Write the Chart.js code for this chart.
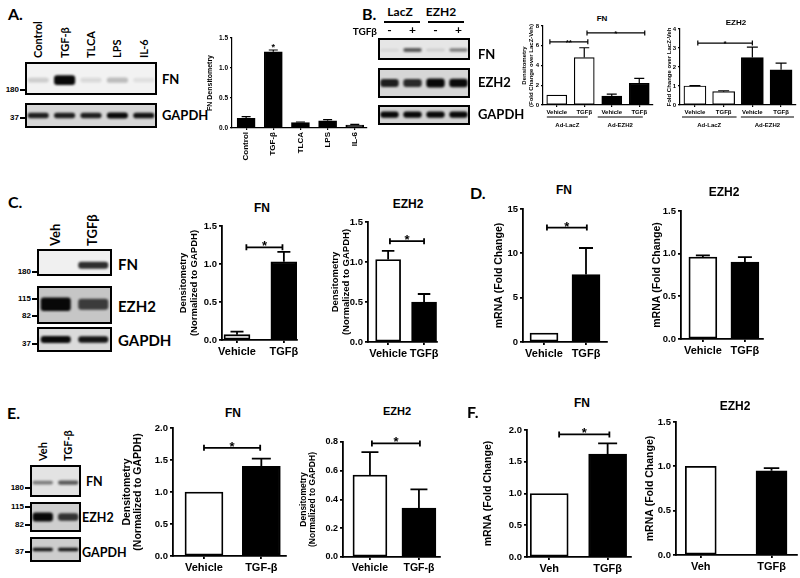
<!DOCTYPE html>
<html>
<head>
<meta charset="utf-8">
<script src="https://cdn.jsdelivr.net/npm/chart.js@4.4.0/dist/chart.umd.min.js"></script>
<style>
body { margin: 0; background: #fff; }
#fig { position: relative; width: 800px; height: 578px; overflow: hidden; font-family: "Liberation Sans", Arial, sans-serif; font-weight: bold; color: #000; }
.abs { position: absolute; white-space: nowrap; line-height: 1.2; }
.cal { font-family: Lato, "Open Sans", sans-serif; font-weight: bold; }
canvas { position: absolute; }
</style>
</head>
<body>
<div id="fig"></div>
<script>
// ---- panel A ----
const aCats = ["Control", "TGF-β", "TLCA", "LPS", "IL-6"];
const aFN = [0.16, 1.27, 0.09, 0.12, 0.05];
const aFNErr = [0.03, 0.03, 0.01, 0.02, 0.01];
const aTicks = [0, 0.5, 1.0, 1.5];
const aBlotFN = [0.15, 1.0, 0.1, 0.22, 0.08];
const aBlotGAPDH = [0.85, 0.85, 0.85, 1.0, 0.9];

// ---- panel B ----
const bCats = ["Vehicle", "TGFβ", "Vehicle", "TGFβ"];
const bGroups = ["Ad-LacZ", "Ad-EZH2"];
const bFN = [1.0, 4.8, 0.9, 2.2];
const bFNErr = [0, 1.0, 0.2, 0.5];
const bFNTicks = [0, 2, 4, 6, 8];
const bEZH2 = [1.0, 0.7, 2.5, 1.85];
const bEZH2Err = [0.02, 0.05, 0.55, 0.35];
const bEZH2Ticks = [0, 1, 2, 3, 4];
const bLanes = ["-", "+", "-", "+"];
const bBlotFN = [0.08, 0.6, 0.12, 0.45];
const bBlotEZH2 = [0.85, 0.8, 1.0, 0.95];
const bBlotGAPDH = [1.0, 1.0, 1.0, 1.0];

// ---- panel C ----
const cCats = ["Vehicle", "TGFβ"];
const cFN = [0.07, 1.03];
const cFNErr = [0.04, 0.13];
const cEZH2 = [1.03, 0.5];
const cEZH2Err = [0.11, 0.1];
const cTicks = [0, 0.5, 1.0, 1.5];
const cLanes = ["Veh", "TGFβ"];
const cBlotFN = [0.0, 0.8];
const cBlotEZH2 = [1.0, 0.7];
const cBlotGAPDH = [0.95, 0.9];

// ---- panel D ----
const dCats = ["Vehicle", "TGFβ"];
const dFN = [1.0, 7.6];
const dFNErr = [0, 3.0];
const dFNTicks = [0, 5, 10, 15];
const dEZH2 = [0.96, 0.9];
const dEZH2Err = [0.02, 0.06];
const dEZH2Ticks = [0, 0.5, 1.0, 1.5];

// ---- panel E ----
const eCats = ["Vehicle", "TGF-β"];
const eFN = [1.0, 1.4];
const eFNErr = [0, 0.12];
const eFNTicks = [0, 0.5, 1.0, 1.5, 2.0];
const eEZH2 = [0.57, 0.34];
const eEZH2Err = [0.16, 0.13];
const eEZH2Ticks = [0, 0.2, 0.4, 0.6, 0.8];
const eLanes = ["Veh", "TGF-β"];
const eBlotFN = [0.45, 0.6];
const eBlotEZH2 = [1.0, 0.75];
const eBlotGAPDH = [0.9, 0.9];

// ---- panel F ----
const fCats = ["Veh", "TGFβ"];
const fFN = [1.0, 1.62];
const fFNErr = [0, 0.17];
const fFNTicks = [0, 0.5, 1.0, 1.5, 2.0];
const fEZH2 = [1.0, 0.95];
const fEZH2Err = [0, 0.03];
const fEZH2Ticks = [0, 0.5, 1.0, 1.5];

Chart.defaults.font.family = '"Liberation Sans", Arial, sans-serif';
Chart.defaults.font.weight = 'bold';
Chart.defaults.color = '#000';

const fig = document.getElementById('fig');

function el(t, x, y, size, cls, tf) {
    const d = document.createElement('div');
    d.className = 'abs ' + (cls || '');
    d.textContent = t;
    d.style.left = x + 'px';
    d.style.top = y + 'px';
    d.style.fontSize = size + 'px';
    if (tf) d.style.transform = tf;
    fig.appendChild(d);
    return d;
}
const center = (t, x, y, s, c) => el(t, x, y, s, c, 'translate(-50%,-50%)');
const leftMid = (t, x, y, s, c) => el(t, x, y, s, c, 'translate(0,-50%)');
const rightMid = (t, x, y, s, c) => el(t, x, y, s, c, 'translate(-100%,-50%)');
function vert(t, x, y, s, c) {
    const d = el(t, x, y, s, c, 'rotate(-90deg) translate(0,-50%)');
    d.style.transformOrigin = '0 0';
    return d;
}
function hline(x1, x2, y, w) {
    const d = document.createElement('div');
    d.style.cssText = `position:absolute;left:${x1}px;top:${y - w / 2}px;width:${x2 - x1}px;height:${w}px;background:#000`;
    fig.appendChild(d);
}
function marker(t, xr, y, s) {
    rightMid(t, xr - 1, y, s, '');
    hline(xr, xr + 5, y, 1.5);
}

function makeCanvas(x, y, w, h) {
    const cv = document.createElement('canvas');
    cv.width = w; cv.height = h;
    cv.style.left = x + 'px'; cv.style.top = y + 'px';
    cv.style.width = w + 'px'; cv.style.height = h + 'px';
    fig.appendChild(cv);
    return cv;
}

// western blot strip: one lane per value, band darkness from the value
function blot(o) {
    const cv = makeCanvas(o.x, o.y, o.w, o.h);
    const half = v => o.bh * (0.4 + 0.6 * v) / 2;
    new Chart(cv, {
        type: 'bar',
        data: {
            labels: o.vals.map((_, i) => i),
            datasets: [{
                data: o.vals.map(v => [o.c - half(v), o.c + half(v)]),
                backgroundColor: o.vals.map(v => `rgba(8,8,8,${Math.min(1, v * 1.05)})`),
                borderWidth: 0, borderRadius: 3, borderSkipped: false,
                barPercentage: o.bp || 0.8, categoryPercentage: 1
            }]
        },
        options: {
            responsive: false, animation: false, devicePixelRatio: 1,
            layout: { padding: 0 },
            plugins: { legend: { display: false }, tooltip: { enabled: false } },
            scales: { x: { display: false }, y: { display: false, min: 0, max: 1 } }
        },
        plugins: [{
            id: 'strip',
            beforeDraw(ch) { const c = ch.ctx; c.save(); c.fillStyle = o.bg; c.fillRect(0, 0, o.w, o.h); c.restore(); },
            beforeDatasetsDraw(ch) { ch.ctx.save(); ch.ctx.filter = `blur(${o.blur || 0.9}px)`; },
            afterDatasetsDraw(ch) { ch.ctx.restore(); },
            afterDraw(ch) { const c = ch.ctx; c.save(); c.strokeStyle = '#000'; c.lineWidth = 2; c.strokeRect(1, 1, o.w - 2, o.h - 2); c.restore(); }
        }]
    });
}

const errPlugin = o => ({
    id: 'err',
    afterDatasetsDraw(ch) {
        const ctx = ch.ctx, ys = ch.scales.y, lw = o.lw || 1.8;
        ch.getDatasetMeta(0).data.forEach((bar, i) => {
            const e = o.errs[i];
            if (!e) return;
            const y0 = ys.getPixelForValue(o.vals[i]), y1 = ys.getPixelForValue(o.vals[i] + e);
            const cap = o.thick * 0.5;
            ctx.save();
            ctx.strokeStyle = '#000'; ctx.lineWidth = lw;
            ctx.beginPath();
            ctx.moveTo(bar.x, y0); ctx.lineTo(bar.x, y1);
            ctx.moveTo(bar.x - cap / 2, y1); ctx.lineTo(bar.x + cap / 2, y1);
            ctx.stroke();
            ctx.restore();
        });
    }
});

const sigPlugin = o => ({
    id: 'sig',
    afterDraw(ch) {
        const ctx = ch.ctx, xs = ch.scales.x, ys = ch.scales.y, lw = o.lw || 1.8;
        ctx.save();
        ctx.strokeStyle = '#000'; ctx.fillStyle = '#000'; ctx.lineWidth = lw;
        (o.sig || []).forEach(s => {
            const xa = xs.getPixelForValue(s.a), xb = xs.getPixelForValue(s.b), y = ys.getPixelForValue(s.y);
            if (s.a !== s.b) {
                const k = o.sk || 3;
                ctx.beginPath();
                ctx.moveTo(xa, y); ctx.lineTo(xb, y);
                ctx.moveTo(xa, y - k); ctx.lineTo(xa, y + k);
                ctx.moveTo(xb, y - k); ctx.lineTo(xb, y + k);
                ctx.stroke();
            }
            ctx.font = `bold ${o.ss || 13}px "Liberation Sans", Arial`;
            ctx.textAlign = 'center'; ctx.textBaseline = 'alphabetic';
            ctx.fillText(s.t, (xa + xb) / 2, y + (o.so ?? 3));
        });
        (o.groups || []).forEach(g => {
            const xa = xs.getPixelForValue(g.a), xb = xs.getPixelForValue(g.b);
            const y = ch.chartArea.bottom + o.gy;
            ctx.lineWidth = 1;
            ctx.beginPath(); ctx.moveTo(xa, y); ctx.lineTo(xb, y); ctx.stroke();
            ctx.font = `bold ${o.xs}px "Liberation Sans", Arial`;
            ctx.textAlign = 'center'; ctx.textBaseline = 'middle';
            ctx.fillText(g.t, (xa + xb) / 2, y + o.gt);
        });
        ctx.restore();
    }
});

// bar chart whose plot area is placed at x0..x1 / top..bot on the page
function barChart(o) {
    const padT = 10, padR = 24;
    const W = o.yw + (o.x1 - o.x0) + padR, H = padT + (o.bot - o.top) + o.xh;
    const cv = makeCanvas(o.x0 - o.yw, o.top - padT, W, H);
    const n = o.cats.length, lw = o.lw || 1.8;
    const grid = { display: true, drawOnChartArea: false, drawTicks: true, tickLength: o.tl || 3, color: '#000', lineWidth: lw, offset: false };
    new Chart(cv, {
        type: 'bar',
        data: {
            datasets: [{
                data: o.vals.map((v, i) => ({ x: i, y: v })),
                backgroundColor: o.fills, borderColor: '#000', borderWidth: lw, borderSkipped: false,
                barThickness: o.thick
            }]
        },
        options: {
            responsive: false, animation: false, devicePixelRatio: 1,
            layout: { padding: { left: 0, top: padT, right: padR, bottom: 0 } },
            plugins: { legend: { display: false }, tooltip: { enabled: false } },
            scales: {
                x: {
                    type: 'linear', offset: false, min: -o.padL, max: n - 1 + o.padR,
                    afterBuildTicks: s => { s.ticks = o.cats.map((c, i) => ({ value: i })); },
                    afterFit: s => { s.height = o.xh; },
                    ticks: { callback: (v, i) => o.cats[i], autoSkip: false, maxRotation: o.rot || 0, minRotation: o.rot || 0, padding: o.xpad ?? 2, font: { size: o.xs, weight: 'bold' }, color: '#000' },
                    grid: grid,
                    border: { display: true, color: '#000', width: lw }
                },
                y: {
                    type: 'linear', min: 0, max: o.ticks[o.ticks.length - 1],
                    afterBuildTicks: s => { s.ticks = o.ticks.map(v => ({ value: v })); },
                    afterFit: s => { s.width = o.yw; },
                    ticks: { callback: v => v.toFixed(o.dec), padding: o.ypad ?? 2, font: { size: o.ts, weight: 'bold' }, color: '#000' },
                    grid: grid,
                    border: { display: true, color: '#000', width: lw },
                    title: { display: true, text: o.ytitle, padding: 0, color: '#000', font: { size: o.yts, weight: 'bold', lineHeight: o.ytlh || 1.2 } }
                }
            }
        },
        plugins: [errPlugin(o), sigPlugin(o)]
    });
}

const WB = ['#fff', '#000'];
const WWBB = ['#fff', '#fff', '#000', '#000'];

// ================= A =================
el('A.', 8, 4, 16, 'cal');
const aLane = { x: 25, w: 132 };
aCats.forEach((c, i) => vert(c, aLane.x + aLane.w * (i + 0.5) / aCats.length, 58, 11, 'cal'));
blot({ x: 25, y: 62, w: 132, h: 33, vals: aBlotFN, bg: '#f2f2f2', c: 0.45, bh: 0.3 });
blot({ x: 25, y: 103, w: 132, h: 25, vals: aBlotGAPDH, bg: '#d6d6d6', c: 0.5, bh: 0.24 });
marker('180', 20, 90, 8);
marker('37', 20, 118, 8);
leftMid('FN', 162, 80, 13, 'cal');
leftMid('GAPDH', 162, 116, 13, 'cal');
barChart({ x0: 232, x1: 367, top: 38, bot: 128, yw: 26, xh: 42, cats: aCats, vals: aFN, errs: aFNErr,
    ticks: aTicks, dec: 1, fills: aCats.map(() => '#000'), thick: 18, padL: 0.52, padR: 0.45,
    ytitle: 'FN Densitometry', yts: 7, ts: 6.5, xs: 8, rot: 90, lw: 1.2, tl: 2, ss: 9, so: 4,
    sig: [{ a: 1, b: 1, y: 1.36, t: '*' }] });

// ================= B =================
el('B.', 362, 4, 16, 'cal');
const bLane = { x: 378, w: 92 };
const bx = i => bLane.x + bLane.w * (i + 0.5) / bLanes.length;
center('LacZ', 400, 12, 12, 'cal');
center('EZH2', 441, 12, 12, 'cal');
hline(384, 420, 22, 1.2);
hline(428, 464, 22, 1.2);
rightMid('TGFβ', 377, 31, 10, 'cal');
bLanes.forEach((l, i) => center(l, bx(i), 30, 12, 'cal'));
blot({ x: 378, y: 38, w: 92, h: 22, vals: bBlotFN, bg: '#e6e6e6', c: 0.45, bh: 0.24 });
blot({ x: 378, y: 68, w: 92, h: 30, vals: bBlotEZH2, bg: '#d6d6d6', c: 0.5, bh: 0.3 });
blot({ x: 378, y: 105, w: 92, h: 20, vals: bBlotGAPDH, bg: '#d2d2d2', c: 0.52, bh: 0.32 });
leftMid('FN', 478, 55, 13, 'cal');
leftMid('EZH2', 478, 83, 13, 'cal');
leftMid('GAPDH', 478, 115, 13, 'cal');
center('FN', 602, 19, 8, '');
barChart({ x0: 543, x1: 653, top: 26, bot: 105, yw: 22, xh: 28, cats: bCats, vals: bFN, errs: bFNErr,
    ticks: bFNTicks, dec: 0, fills: WWBB, thick: 20, padL: 0.5, padR: 0.5,
    ytitle: ['Densitometry', '(Fold Change over LacZ-Veh)'], yts: 6, ytlh: 1.1, ts: 6, xs: 6, lw: 1.2, tl: 2,
    ss: 8, so: 3, sk: 2.5,
    sig: [{ a: -0.25, b: 1.13, y: 6.4, t: '**' }, { a: 1.1, b: 3.2, y: 7.3, t: '*' }],
    groups: [{ a: -0.36, b: 1.13, t: bGroups[0] }, { a: 1.49, b: 3.13, t: bGroups[1] }], gy: 12, gt: 8 });
center('EZH2', 736, 23, 8, '');
barChart({ x0: 680, x1: 796, top: 29, bot: 105, yw: 14, xh: 28, cats: bCats, vals: bEZH2, errs: bEZH2Err,
    ticks: bEZH2Ticks, dec: 0, fills: WWBB, thick: 22, padL: 0.52, padR: 0.52,
    ytitle: 'Fold Change over LacZ-Veh', yts: 6, ts: 6, xs: 6, lw: 1.2, tl: 2, ss: 8, so: 3, sk: 2.5,
    sig: [{ a: 0.1, b: 2.0, y: 3.26, t: '*' }],
    groups: [{ a: -0.45, b: 1.45, t: bGroups[0] }, { a: 1.6, b: 3.45, t: bGroups[1] }], gy: 12, gt: 8 });

// ================= C =================
el('C.', 8, 192, 16, 'cal');
const cLane = { x: 37, w: 75 };
cLanes.forEach((c, i) => vert(c, cLane.x + cLane.w * (i + 0.5) / cLanes.length, 246, 13, 'cal'));
blot({ x: 37, y: 249, w: 75, h: 27, vals: cBlotFN, bg: '#f0f0f0', c: 0.4, bh: 0.3 });
blot({ x: 37, y: 286, w: 75, h: 38, vals: cBlotEZH2, bg: '#c6c6c6', c: 0.52, bh: 0.36 });
blot({ x: 37, y: 327, w: 75, h: 25, vals: cBlotGAPDH, bg: '#dadada', c: 0.5, bh: 0.28 });
marker('180', 32, 272, 8);
marker('115', 32, 299, 8);
marker('82', 32, 316, 8);
marker('37', 32, 344, 8);
leftMid('FN', 118, 264, 15, 'cal');
leftMid('EZH2', 118, 306, 15, 'cal');
leftMid('GAPDH', 118, 340, 15, 'cal');
center('FN', 262, 208, 12, '');
barChart({ x0: 222, x1: 297, top: 226, bot: 340, yw: 44, xh: 22, cats: cCats, vals: cFN, errs: cFNErr,
    ticks: cTicks, dec: 1, fills: WB, thick: 26, padL: 0.32, padR: 0.28,
    ytitle: ['Densitometry', '(Normalized to GAPDH)'], yts: 9.5, ytlh: 1.15, ts: 9.5, xs: 11,
    sig: [{ a: 0.2, b: 0.97, y: 1.22, t: '*' }] });
center('EZH2', 408, 204, 12, '');
barChart({ x0: 368, x1: 437, top: 222, bot: 342, yw: 38, xh: 22, cats: cCats, vals: cEZH2, errs: cEZH2Err,
    ticks: cTicks, dec: 1, fills: WB, thick: 25, padL: 0.56, padR: 0.36,
    ytitle: ['Densitometry', '(Normalized to GAPDH)'], yts: 9.5, ytlh: 1.15, ts: 9.5, xs: 11,
    sig: [{ a: 0.05, b: 1.0, y: 1.26, t: '*' }] });

// ================= D =================
el('D.', 470, 183, 16, 'cal');
center('FN', 564, 190, 12, '');
barChart({ x0: 523, x1: 607, top: 209, bot: 342, yw: 30, xh: 22, cats: dCats, vals: dFN, errs: dFNErr,
    ticks: dFNTicks, dec: 0, fills: WB, thick: 28, padL: 0.5, padR: 0.5,
    ytitle: 'mRNA (Fold Change)', yts: 10.5, ts: 9.5, xs: 11,
    sig: [{ a: 0.07, b: 1.02, y: 12.9, t: '*' }] });
center('EZH2', 724, 192, 12, '');
barChart({ x0: 681, x1: 763, top: 211, bot: 339, yw: 30, xh: 22, cats: dCats, vals: dEZH2, errs: dEZH2Err,
    ticks: dEZH2Ticks, dec: 1, fills: WB, thick: 28, padL: 0.52, padR: 0.43,
    ytitle: 'mRNA (Fold Change)', yts: 10.5, ts: 9.5, xs: 11 });

// ================= E =================
el('E.', 7, 403, 16, 'cal');
const eLane = { x: 30, w: 51 };
eLanes.forEach((c, i) => vert(c, eLane.x + eLane.w * (i + 0.5) / eLanes.length, 461, 11, 'cal'));
blot({ x: 30, y: 465, w: 51, h: 32, vals: eBlotFN, bg: '#e3e3e3', c: 0.45, bh: 0.18 });
blot({ x: 30, y: 502, w: 51, h: 30, vals: eBlotEZH2, bg: '#cecece', c: 0.5, bh: 0.3 });
blot({ x: 30, y: 537, w: 51, h: 25, vals: eBlotGAPDH, bg: '#cdcdcd', c: 0.5, bh: 0.14 });
marker('180', 25, 488, 8);
marker('115', 25, 507, 8);
marker('82', 25, 525, 8);
marker('37', 25, 552, 8);
leftMid('FN', 86, 481, 12.5, 'cal');
leftMid('EZH2', 82, 517, 12.5, 'cal');
leftMid('GAPDH', 82, 552, 12.5, 'cal');
center('FN', 233, 413, 12, '');
barChart({ x0: 173, x1: 286, top: 428, bot: 556, yw: 51, xh: 22, cats: eCats, vals: eFN, errs: eFNErr,
    ticks: eFNTicks, dec: 1, fills: WB, thick: 38, padL: 0.54, padR: 0.43,
    ytitle: ['Densitometry', '(Normalized to GAPDH)'], yts: 10.5, ytlh: 1.05, ts: 9.5, xs: 11,
    sig: [{ a: 0, b: 0.98, y: 1.69, t: '*' }] });
center('EZH2', 397, 412, 11, '');
barChart({ x0: 343, x1: 440, top: 442, bot: 557, yw: 44, xh: 22, cats: eCats, vals: eEZH2, errs: eEZH2Err,
    ticks: eEZH2Ticks, dec: 1, fills: WB, thick: 34, padL: 0.55, padR: 0.43,
    ytitle: ['Densitometry', '(Normalized to GAPDH)'], yts: 8.5, ytlh: 1.05, ts: 9, xs: 10.5,
    sig: [{ a: 0.04, b: 1.02, y: 0.79, t: '*' }] });

// ================= F =================
el('F.', 467, 402, 16, 'cal');
center('FN', 582, 403, 12, '');
barChart({ x0: 527, x1: 631, top: 430, bot: 557, yw: 45, xh: 22, cats: fCats, vals: fFN, errs: fFNErr,
    ticks: fFNTicks, dec: 1, fills: WB, thick: 38, padL: 0.38, padR: 0.4,
    ytitle: 'mRNA (Fold Change)', yts: 10.5, ts: 9.5, xs: 11,
    sig: [{ a: 0.17, b: 1.03, y: 1.93, t: '*' }] });
center('EZH2', 735, 406, 12, '');
barChart({ x0: 676, x1: 797, top: 422, bot: 555, yw: 32, xh: 22, cats: fCats, vals: fEZH2, errs: fEZH2Err,
    ticks: fEZH2Ticks, dec: 1, fills: WB, thick: 31, padL: 0.35, padR: 0.36,
    ytitle: 'mRNA (Fold Change)', yts: 10.5, ts: 9.5, xs: 11 });
</script>
</body>
</html>
